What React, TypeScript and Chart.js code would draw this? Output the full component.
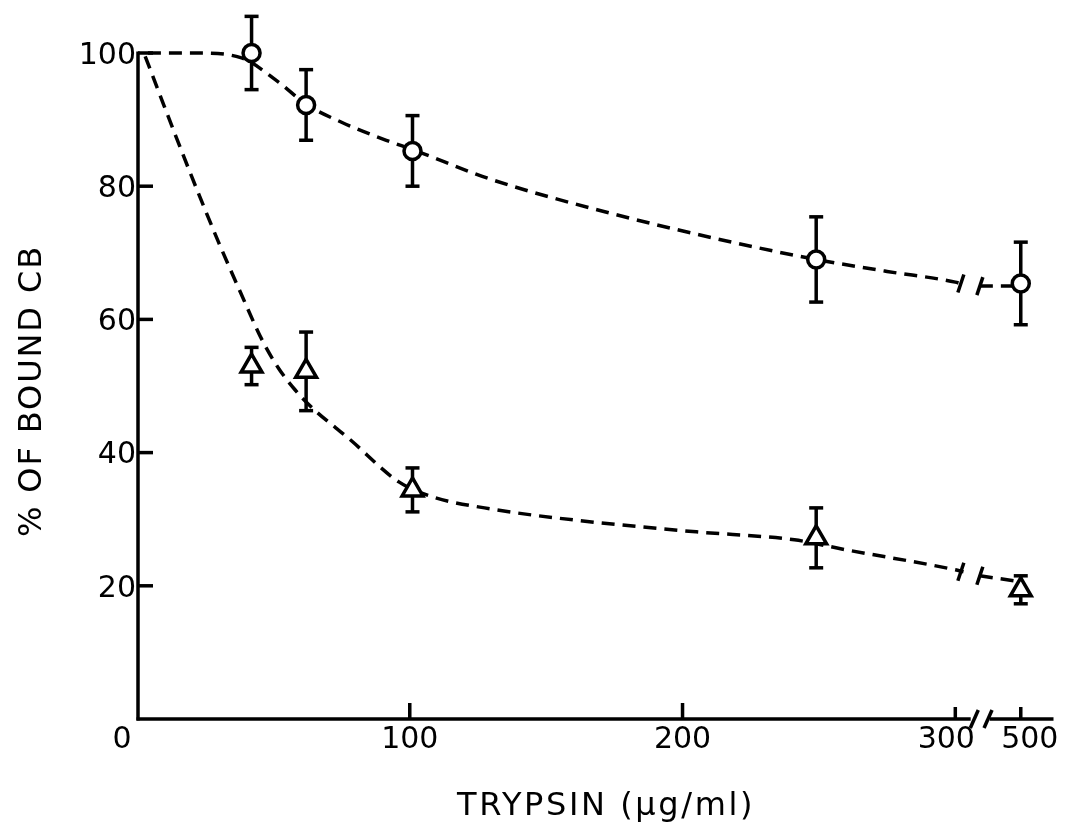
import React, { useEffect, useRef } from "react";
import { Chart, registerables } from "chart.js";
Chart.register(...registerables);

// ---- data (x in µg/ml, y in % of bound CB) ----
const xTickValues = [0, 100, 200, 300, 500];
const xTickLabels = ["0", "100", "200", "300", "500"];
const yTickValues = [20, 40, 60, 80, 100];
const yTickLabels = ["20", "40", "60", "80", "100"];

const doses = [42, 62, 101, 249, 500];
const circleMeans = [100, 92.2, 85.3, 69, 65.4];
const circleErrors = [5.5, 5.3, 5.3, 6.4, 6.2];
const triangleMeans = [53, 52.2, 34.4, 27.2, 19.4];
const triangleErrors = [2.8, 5.9, 3.3, 4.5, 2.1];

// dashed fitted curves (null = break in the line)
const circleCurveX = [4, 22, 38, 52, 62, 75, 92, 101, 130, 173, 217, 249, 275, 300, 315, 340, 375, 500];
const circleCurveY = [100, 100, 99.3, 95.6, 92.3, 89.6, 86.8, 85.5, 81, 76, 71.7, 69, 67.2, 65.6, 65.4, null, 65.0, 65.0];
const triangleCurveX = [3, 10, 20, 30, 38, 46, 52, 58, 64, 78, 96, 108, 132, 162, 205, 241, 260, 300, 325, 350, 375, 500];
const triangleCurveY = [99.5, 92, 81.5, 71.5, 64, 56.8, 52.6, 49.4, 46.8, 42, 35.6, 33.4, 31.4, 29.8, 28.1, 26.9, 25.4, 22.4, 22.1, null, 21.5, 20.6];

const xTitle = "TRYPSIN (µg/ml)";
const yTitle = "% OF BOUND CB";

// axis break: values above 300 are compressed
const BREAK_AT = 300;
const BREAK_FACTOR = 0.12;
const toAxis = (v: number) => (v <= BREAK_AT ? v : BREAK_AT + (v - BREAK_AT) * BREAK_FACTOR);
const curveBreakMarks = [317, 375];
const axisBreakMarks = [358, 400];
const axisGap = [347, 405];

const FONT = '"DejaVu Sans", "Liberation Sans", sans-serif';
const LW = 3.5;

function fitText(ctx: CanvasRenderingContext2D, text: string, target: number) {
  (ctx as any).letterSpacing = "0px";
  const w = ctx.measureText(text).width;
  const ls = Math.max(0, (target - w) / text.length);
  (ctx as any).letterSpacing = ls + "px";
}

const decor = {
  id: "decor",
  beforeDatasetsDraw(chart: any) {
    const ctx: CanvasRenderingContext2D = chart.ctx;
    const xs = chart.scales.x;
    const ys = chart.scales.y;
    const x0 = xs.getPixelForValue(0) + 1;
    const yb = ys.getPixelForValue(0);
    const yt = ys.getPixelForValue(100);
    const seg = (a: number, b: number, c: number, d: number) => {
      ctx.beginPath();
      ctx.moveTo(a, b);
      ctx.lineTo(c, d);
      ctx.stroke();
    };
    ctx.save();
    ctx.strokeStyle = "#000";
    ctx.fillStyle = "#000";
    ctx.lineWidth = LW;
    ctx.lineCap = "butt";
    // axes
    seg(x0, yb + 1.5, x0, yt - 1.5);
    seg(x0 - 1.5, yb, xs.getPixelForValue(toAxis(axisGap[0])), yb);
    seg(xs.getPixelForValue(toAxis(axisGap[1])), yb, chart.chartArea.right, yb);
    // y ticks (inward)
    yTickValues.forEach((v) => {
      const y = ys.getPixelForValue(v);
      seg(x0, y, x0 + 15, y);
    });
    // x ticks (upward)
    xTickValues.forEach((v) => {
      if (v === 0) return;
      const x = xs.getPixelForValue(toAxis(v));
      seg(x, yb, x, yb - (v > 200 ? 12 : 16));
    });
    // axis break slashes
    axisBreakMarks.forEach((v) => {
      const x = xs.getPixelForValue(toAxis(v));
      seg(x - 4, yb + 9, x + 4, yb - 9);
    });
    // tick labels
    ctx.font = "30px " + FONT;
    ctx.textAlign = "right";
    ctx.textBaseline = "middle";
    yTickValues.forEach((v, i) => {
      ctx.fillText(yTickLabels[i], x0 - 2, ys.getPixelForValue(v) + 3);
    });
    ctx.textAlign = "center";
    const xOff: Record<string, number> = { "0": -15, "300": -9, "500": 9 };
    xTickValues.forEach((v, i) => {
      const x = xs.getPixelForValue(toAxis(v)) + (xOff[xTickLabels[i]] || 0);
      ctx.fillText(xTickLabels[i], x, yb + 21);
    });
    // titles
    ctx.font = "32px " + FONT;
    ctx.textBaseline = "alphabetic";
    fitText(ctx, xTitle, 298);
    ctx.fillText(xTitle, 606, 815);
    ctx.save();
    ctx.translate(41, 391);
    ctx.rotate(-Math.PI / 2);
    fitText(ctx, yTitle, 292);
    ctx.fillText(yTitle, 0, 0);
    ctx.restore();
    (ctx as any).letterSpacing = "0px";
    // error bars
    const bars = (means: number[], errs: number[]) => {
      doses.forEach((d, i) => {
        const x = xs.getPixelForValue(toAxis(d));
        const top = ys.getPixelForValue(means[i] + errs[i]);
        const bot = ys.getPixelForValue(means[i] - errs[i]);
        seg(x, top, x, bot);
        seg(x - 7, top, x + 7, top);
        seg(x - 7, bot, x + 7, bot);
      });
    };
    bars(circleMeans, circleErrors);
    bars(triangleMeans, triangleErrors);
    ctx.restore();
  },
  afterDatasetsDraw(chart: any) {
    const ctx: CanvasRenderingContext2D = chart.ctx;
    const xs = chart.scales.x;
    const ys = chart.scales.y;
    ctx.save();
    ctx.strokeStyle = "#000";
    ctx.lineWidth = LW;
    const marks = (cx: number[], cy: (number | null)[]) => {
      curveBreakMarks.forEach((v) => {
        let best = 0;
        let bd = Infinity;
        cx.forEach((xv, i) => {
          if (cy[i] == null) return;
          const d = Math.abs(xv - v);
          if (d < bd) {
            bd = d;
            best = i;
          }
        });
        const x = xs.getPixelForValue(toAxis(v));
        const y = ys.getPixelForValue(cy[best] as number);
        ctx.beginPath();
        ctx.moveTo(x - 3, y + 9);
        ctx.lineTo(x + 3, y - 9);
        ctx.stroke();
      });
    };
    marks(circleCurveX, circleCurveY);
    marks(triangleCurveX, triangleCurveY);
    ctx.restore();
  },
};

export default function App() {
  const ref = useRef<HTMLCanvasElement | null>(null);
  useEffect(() => {
    if (!ref.current) return;
    const pts = (xs: number[], ys: (number | null)[]) => xs.map((x, i) => ({ x: toAxis(x), y: ys[i] }));
    const markerBase = {
      pointBorderWidth: LW,
      pointBackgroundColor: "#fff",
      pointBorderColor: "#000",
      showLine: false,
      clip: false,
      order: 0,
    };
    const curveBase = {
      showLine: true,
      pointRadius: 0,
      borderColor: "#000",
      borderWidth: LW,
      borderDash: [13, 8],
      cubicInterpolationMode: "monotone",
      spanGaps: false,
      clip: false,
      order: 1,
    };
    const chart = new Chart(ref.current, {
      type: "scatter",
      data: {
        datasets: [
          { label: "circles", data: pts(doses, circleMeans), pointStyle: "circle", pointRadius: 8.5, ...markerBase } as any,
          { label: "triangles", data: pts(doses, triangleMeans), pointStyle: "triangle", pointRadius: 12, ...markerBase } as any,
          { label: "circle fit", data: pts(circleCurveX, circleCurveY), ...curveBase } as any,
          { label: "triangle fit", data: pts(triangleCurveX, triangleCurveY), ...curveBase } as any,
        ],
      },
      options: {
        responsive: false,
        animation: false,
        events: [],
        layout: { padding: { left: 137, right: 11, top: 53, bottom: 117 } },
        plugins: { legend: { display: false }, tooltip: { enabled: false } },
        scales: {
          x: { type: "linear", min: 0, max: 336, display: false },
          y: { type: "linear", min: 0, max: 100, display: false },
        },
      },
      plugins: [decor],
    });
    return () => chart.destroy();
  }, []);
  return (
    <div style={{ position: "fixed", left: 0, top: 0, width: 1069, height: 836, background: "#fff" }}>
      <canvas ref={ref} width={1069} height={836} />
    </div>
  );
}
